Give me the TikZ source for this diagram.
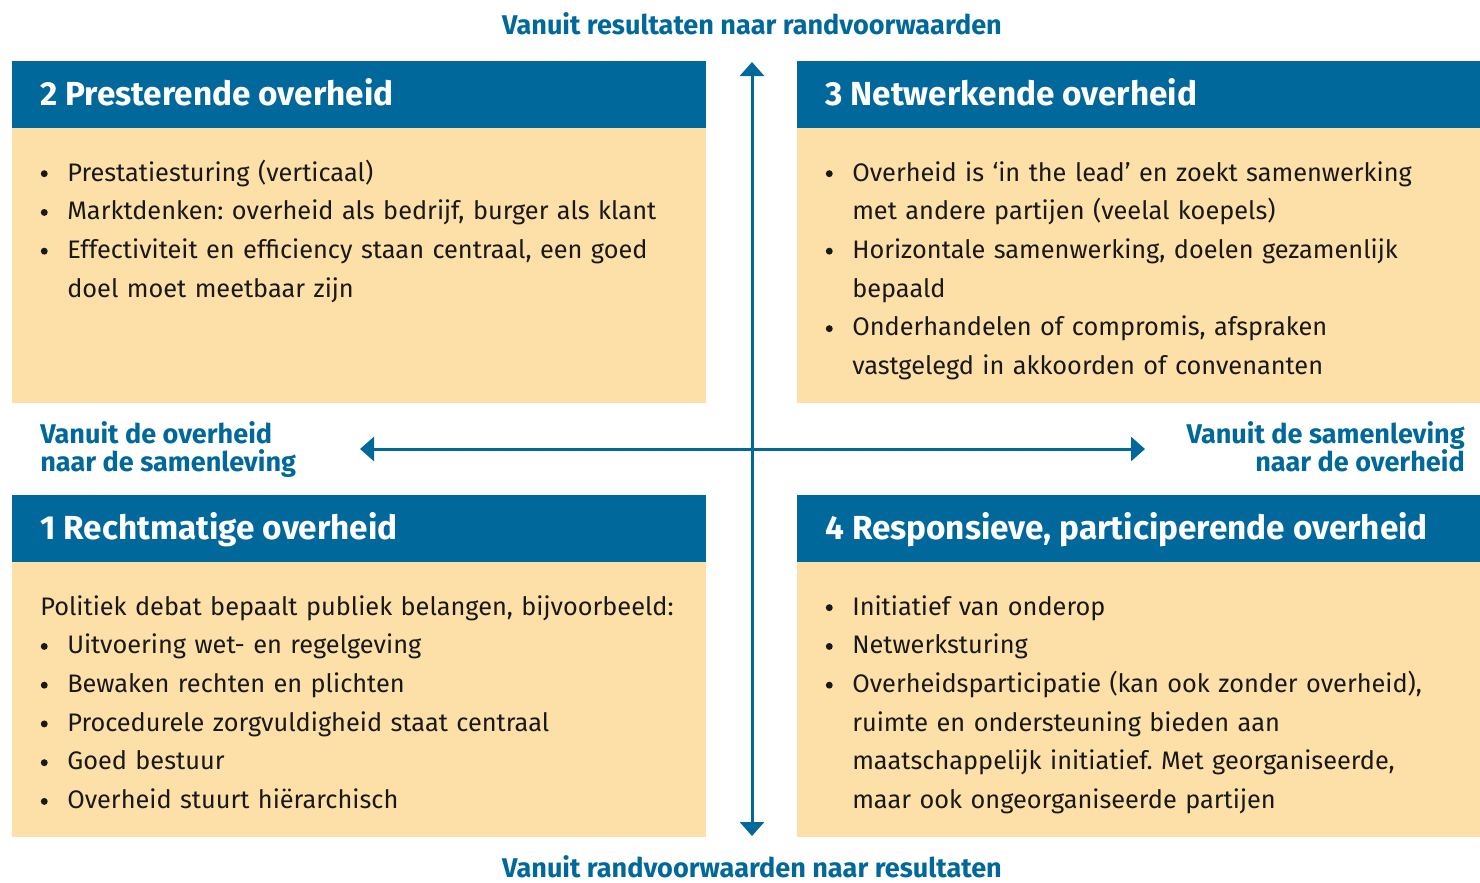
\documentclass[tikz,border=0pt]{standalone}
\usepackage{fontspec}
\setmainfont{Fira Sans}
\usetikzlibrary{arrows.meta,positioning}
\definecolor{rijkblauw}{HTML}{01689B}
\definecolor{lichtgeel}{HTML}{FDDFA8}
\newcommand{\stip}{\hbox to 20.25pt{\hskip0.4pt\tikz[baseline]\fill (0,5.5pt) circle (2.6pt);\hfil}}
\newcommand{\bulA}{\hangindent=20.25pt\hangafter=1\stip}
\newcommand{\bul}{\par\noindent\bulA}
\begin{document}
\begin{tikzpicture}[x=0.75pt,y=-0.75pt,
    kop/.style={fill=rijkblauw,draw=none},
    vak/.style={fill=lichtgeel,draw=none},
    koptekst/.style={anchor=base west,inner sep=0pt,text=white,font=\fontsize{25}{30}\selectfont\bfseries},
    tekst/.style={anchor=base west,inner sep=0pt,text width=530pt,align=left,text=black!90,font=\fontsize{19}{29.06}\selectfont\frenchspacing},
    as/.style={draw=rijkblauw,line width=2.25pt,{Triangle[width=18pt,length=10.5pt]}-{Triangle[width=18pt,length=10.5pt]}},
    label/.style={inner sep=0pt,text=rijkblauw,font=\fontsize{20.3}{21}\selectfont\bfseries}]
\useasboundingbox (0,0) rectangle (1480,882);

\fill[vak] (12,128) rectangle (706,403);
\fill[kop] (12,61) rectangle (706,128);
\fill[vak] (797,128) rectangle (1480,403);
\fill[kop] (797,61) rectangle (1480,128);
\fill[vak] (12,562) rectangle (706,837);
\fill[kop] (12,495) rectangle (706,562);
\fill[vak] (797,562) rectangle (1480,837);
\fill[kop] (797,495) rectangle (1480,562);

\node[koptekst] (kop2) at (40,105) {2 Presterende overheid};
\node[koptekst] (kop3) at (825,105) {3 Netwerkende overheid};
\node[koptekst] (kop1) at (40,539) {1 Rechtmatige overheid};
\node[koptekst] (kop4) at (825,539) {4 Responsieve, participerende overheid};

\node[tekst] (tekst2) at (40,181) {%
  \bulA Prestatiesturing (verticaal)
  \bul Marktdenken: overheid als bedrijf, burger als klant
  \bul Effectiviteit en efficiency staan centraal, een goed\newline doel moet meetbaar zijn\par};
\node[tekst] (tekst3) at (825,181) {%
  \bulA Overheid is ‘in the lead’ en zoekt samenwerking\newline met andere partijen (veelal koepels)
  \bul Horizontale samenwerking, doelen gezamenlijk\newline bepaald
  \bul Onderhandelen of compromis, afspraken\newline vastgelegd in akkoorden of convenanten\par};
\node[tekst] (tekst1) at (40,615) {%
  Politiek debat bepaalt publiek belangen, bijvoorbeeld:
  \bul Uitvoering wet- en regelgeving
  \bul Bewaken rechten en plichten
  \bul Procedurele zorgvuldigheid staat centraal
  \bul Goed bestuur
  \bul Overheid stuurt hiërarchisch\par};
\node[tekst] (tekst4) at (825,615) {%
  \bulA Initiatief van onderop
  \bul Netwerksturing
  \bul Overheidsparticipatie (kan ook zonder overheid),\newline ruimte en ondersteuning bieden aan\newline maatschappelijk initiatief. Met georganiseerde,\newline maar ook ongeorganiseerde partijen\par};

\node[label,anchor=base] (boven) at (752,34) {Vanuit resultaten naar randvoorwaarden};
\node[label,anchor=base] (onder) at (752,877) {Vanuit randvoorwaarden naar resultaten};
\node[label,anchor=base west,align=left] (links) at (40,471) {Vanuit de overheid\\naar de samenleving};
\node[label,anchor=base east,align=right] (rechts) at (1465,471) {Vanuit de samenleving\\naar de overheid};

\coordinate (top) at (752,62);
\coordinate (bodem) at (752,836);
\coordinate (west) at (360,449);
\coordinate (oost) at (1145,449);
\draw[as] (bodem) -- (top);
\draw[as] (west) -- (oost);
\end{tikzpicture}
\end{document}
